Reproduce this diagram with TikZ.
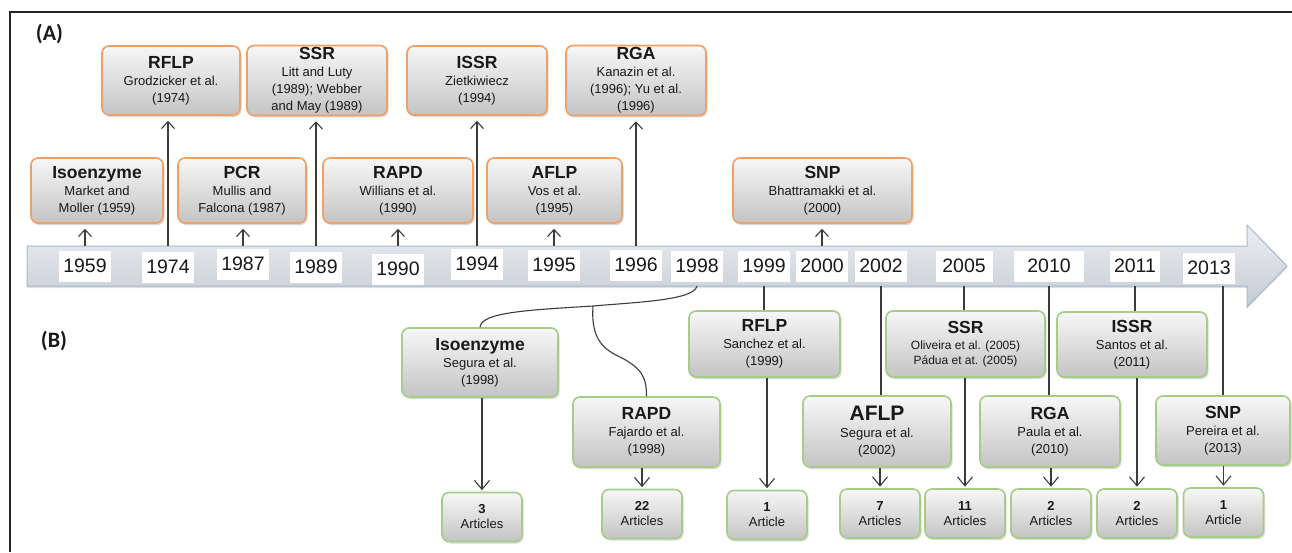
\documentclass[tikz,border=0pt]{standalone}
\usepackage{fontspec}
\setmainfont{Liberation Sans}
\newfontfamily\calibfont{Carlito}
\usetikzlibrary{arrows.meta,shadows,calc}
\definecolor{orangeb}{RGB}{240,160,100}
\definecolor{greenb}{RGB}{165,205,135}
\definecolor{boxtop}{RGB}{247,247,247}
\definecolor{boxbot}{RGB}{196,196,196}
\definecolor{bartop}{RGB}{236,239,243}
\definecolor{barbot}{RGB}{196,203,212}
\definecolor{baredge}{RGB}{165,185,210}
\definecolor{linec}{RGB}{60,60,60}
\definecolor{txt}{RGB}{25,25,25}
\newcommand\ttl[1]{{\fontsize{17.5}{17}\selectfont\bfseries #1}}
\newcommand\bigttl[1]{{\fontsize{21}{17}\selectfont\bfseries #1}}
\tikzset{
  yr/.style={fill=white, inner xsep=4pt, inner ysep=0pt, minimum height=31pt, text=txt,
    font=\fontsize{19.5}{19.5}\selectfont},
  boxbase/.style={rounded corners=7pt, top color=boxtop, bottom color=boxbot,
    line width=1.6pt, align=center, text=txt, inner sep=2pt,
    drop shadow={opacity=0.3, shadow xshift=1.5pt, shadow yshift=-2pt},
    font=\fontsize{13}{17}\selectfont},
  obox/.style={boxbase, draw=orangeb},
  gbox/.style={boxbase, draw=greenb},
  abox/.style={boxbase, draw=greenb, minimum width=80, minimum height=49,
    font=\fontsize{13}{15}\selectfont},
  conn/.style={draw=linec, line width=1.1pt},
  upar/.style={conn, -{Straight Barb[length=7pt,width=13pt,line width=1.1pt]}, shorten >=5pt},
  dnar/.style={conn, -{Straight Barb[length=9pt,width=15pt,line width=1.1pt]}, shorten >=1.5pt},
  lab/.style={font=\calibfont\bfseries\fontsize{22}{22}\selectfont, text=txt}
}
\begin{document}
\begin{tikzpicture}[x=1pt,y=-1pt]
\useasboundingbox (0,0) rectangle (1292,552);
\fill[white] (0,0) rectangle (1292,552);
% frame
\draw[line width=2pt, black!85] (1292,12) -- (10,12) -- (10,552);
\node[lab] (labA) at (49.5,34) {(A)};
\node[lab] (labB) at (54,341) {(B)};
% timeline bar
\path[draw=baredge, line width=1pt, top color=bartop, bottom color=barbot,
  drop shadow={opacity=0.25, shadow xshift=0pt, shadow yshift=-2pt}]
  (27,246) -- (1247,246) -- (1247,225) -- (1287,266) -- (1247,307) -- (1247,286) -- (27,286) -- cycle;
\coordinate (bt) at (0,246);
\coordinate (bb) at (0,286);
% years
\node[yr] (y1959) at (85,266) {1959};
\node[yr] (y1974) at (168,267) {1974};
\node[yr] (y1987) at (243,264) {1987};
\node[yr] (y1989) at (316,267) {1989};
\node[yr] (y1990) at (398,269) {1990};
\node[yr] (y1994) at (477,264) {1994};
\node[yr] (y1995) at (554,265) {1995};
\node[yr] (y1996) at (636,265) {1996};
\node[yr] (y1998) at (697,266) {1998};
\node[yr] (y1999) at (764,266) {1999};
\node[yr] (y2000) at (822,266) {2000};
\node[yr] (y2002) at (881,266) {2002};
\node[yr, minimum width=57] (y2005) at (964,266) {2005};
\node[yr, minimum width=70] (y2010) at (1049,266) {2010};
\node[yr] (y2011) at (1135,266) {2011};
\node[yr] (y2013) at (1209,268) {2013};
% top boxes (A)
\node[obox, minimum width=138, minimum height=69] (rflpA) at (171,80.5) {\ttl{RFLP}\\Grodzicker et al.\\(1974)};
\node[obox, minimum width=140, minimum height=69] (ssrA) at (317,80.5) {\ttl{SSR}\\Litt and Luty\\(1989); Webber\\and May (1989)};
\node[obox, minimum width=140, minimum height=69] (issrA) at (477,80.5) {\ttl{ISSR}\\Zietkiwiecz\\(1994)};
\node[obox, minimum width=140, minimum height=69] (rgaA) at (636,80.5) {\ttl{RGA}\\Kanazin et al.\\(1996); Yu et al.\\(1996)};
\node[obox, minimum width=132, minimum height=65] (isoA) at (97,190.5) {\ttl{Isoenzyme}\\Market and\\Moller (1959)};
\node[obox, minimum width=128, minimum height=65] (pcrA) at (242,190.5) {\ttl{PCR}\\Mullis and\\Falcona (1987)};
\node[obox, minimum width=150, minimum height=65] (rapdA) at (398,190.5) {\ttl{RAPD}\\Willians et al.\\(1990)};
\node[obox, minimum width=135, minimum height=65] (aflpA) at (554.5,190.5) {\ttl{AFLP}\\Vos et al.\\(1995)};
\node[obox, minimum width=179, minimum height=65] (snpA) at (822.5,190.5) {\ttl{SNP}\\Bhattramakki et al.\\(2000)};
% arrows up
\draw[upar] (y1959 |- bt) -- (y1959 |- isoA.south);
\draw[upar] (y1974 |- bt) -- (y1974 |- rflpA.south);
\draw[upar] (y1987 |- bt) -- (y1987 |- pcrA.south);
\draw[upar] (y1989 |- bt) -- (y1989 |- ssrA.south);
\draw[upar] (y1990 |- bt) -- (y1990 |- rapdA.south);
\draw[upar] (y1994 |- bt) -- (y1994 |- issrA.south);
\draw[upar] (y1995 |- bt) -- (y1995 |- aflpA.south);
\draw[upar] (y1996 |- bt) -- (y1996 |- rgaA.south);
\draw[upar] (y2000 |- bt) -- (y2000 |- snpA.south);
% bottom boxes (B)
\node[gbox, minimum width=156, minimum height=69] (isoB) at (480,362.5) {\ttl{Isoenzyme}\\Segura et al.\\(1998)};
\node[gbox, minimum width=147, minimum height=70] (rapdB) at (646.5,432) {\ttl{RAPD}\\Fajardo et al.\\(1998)};
\node[gbox, minimum width=151, minimum height=66] (rflpB) at (764.5,344) {\ttl{RFLP}\\Sanchez et al.\\(1999)};
\node[gbox, minimum width=148, minimum height=71] (aflpB) at (877,431.5) {\bigttl{AFLP}\\Segura et al.\\(2002)};
\node[gbox, minimum width=159, minimum height=66, font=\fontsize{12}{15}\selectfont] (ssrB) at (965.5,344) {\ttl{SSR}\\[1pt]Oliveira et al. (2005)\\Pádua et at. (2005)};
\node[gbox, minimum width=140, minimum height=71] (rgaB) at (1050,431.5) {\ttl{RGA}\\Paula et al.\\(2010)};
\node[gbox, minimum width=150, minimum height=65] (issrB) at (1132,344.5) {\ttl{ISSR}\\Santos et al.\\(2011)};
\node[gbox, minimum width=134, minimum height=69] (snpB) at (1223,430.5) {\ttl{SNP}\\Pereira et al.\\(2013)};
% article boxes
\node[abox] (a3) at (482,517) {\textbf{3}\\Articles};
\node[abox] (a22) at (642,514) {\textbf{22}\\Articles};
\node[abox] (a1) at (767,515) {\textbf{1}\\Article};
\node[abox] (a7) at (880,513.5) {\textbf{7}\\Articles};
\node[abox] (a11) at (965,513.5) {\textbf{11}\\Articles};
\node[abox] (a2a) at (1051,513.5) {\textbf{2}\\Articles};
\node[abox] (a2b) at (1137,513.5) {\textbf{2}\\Articles};
\node[abox] (a1b) at (1223.5,512.5) {\textbf{1}\\Article};
% lines from timeline down
\coordinate (br) at (593,306);
\draw[conn] (y1998 |- bb) .. controls (694,300) and (640,302) .. (br)
  .. controls (530,310) and (481,312) .. (isoB.north);
\draw[conn] (br) .. controls (591,335) and (600,348) .. (620,357)
  .. controls (644,369) and (646.5,380) .. (rapdB.north);
\draw[conn] (y1999 |- bb) -- (y1999 |- rflpB.north);
\draw[conn] (y2002 |- bb) -- (y2002 |- aflpB.north);
\draw[conn] (y2005 |- bb) -- (y2005 |- ssrB.north);
\draw[conn] (y2010 |- bb) -- (y2010 |- rgaB.north);
\draw[conn] (y2011 |- bb) -- (y2011 |- issrB.north);
\draw[conn] (snpB.north |- bb) -- (snpB.north);
% arrows to article counts
\draw[dnar] (a3 |- isoB.south) -- (a3.north);
\draw[dnar] (a22 |- rapdB.south) -- (a22.north);
\draw[dnar] (a1 |- rflpB.south) -- (a1.north);
\draw[dnar] (a7 |- aflpB.south) -- (a7.north);
\draw[dnar] (a11 |- ssrB.south) -- (a11.north);
\draw[dnar] (a2a |- rgaB.south) -- (a2a.north);
\draw[dnar] (a2b |- issrB.south) -- (a2b.north);
\draw[dnar] (a1b |- snpB.south) -- (a1b.north);
\end{tikzpicture}
\end{document}
